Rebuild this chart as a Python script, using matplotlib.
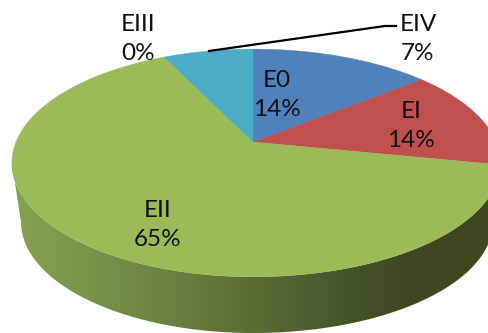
"""Perspective 3D pie of stage shares, drawn in pixel coordinates."""
import numpy as np
import matplotlib
matplotlib.use('Agg')
import matplotlib.pyplot as plt
from matplotlib.colors import LinearSegmentedColormap
from matplotlib.patches import Polygon

labels = ['E0', 'EI', 'EII', 'EIII', 'EIV']
values = [14.1, 14.1, 64.6, 0, 7.2]
colors = ['#4f81bd', '#c0504d', '#9bbb59', '#4bacc6', '#4bacc6']
label_xy = [(277, 95), (411, 126), (158, 225), (138, 39), (418, 39)]

W, H = 489, 333
CX, CY = 253, 142      # pie apex on screen
A_LEFT, A_RIGHT, B, K = 237, 243, 110, 0.184  # projection of the unit circle


def project(theta):
    # theta in degrees, clockwise from 12 o'clock
    t = np.radians(theta)
    den = 1 + K * np.cos(t)
    a = np.where(np.sin(t) > 0, A_RIGHT, A_LEFT)
    return np.column_stack((CX + a * np.sin(t) / den, CY - B * np.cos(t) / den))


fig = plt.figure(figsize=(W / 100, H / 100), dpi=100)
ax = fig.add_axes([0, 0, 1, 1])
ax.set_xlim(0, W)
ax.set_ylim(H, 0)
ax.axis('off')

# side wall, horizontal gradient clipped to the lower rim
tangent = np.degrees(np.arccos(-K))
top_rim = project(np.linspace(tangent, 360 - tangent, 200))
s = np.radians(np.linspace(-90, 90, 200))
rx = np.where(s < 0, 232, 240)
bottom_rim = np.column_stack((253 + rx * np.sin(s), 222 + 111 * np.cos(s)))
wall_path = Polygon(np.vstack((top_rim, bottom_rim)), closed=True,
                    transform=ax.transData, fc='none', ec='none')
ax.add_patch(wall_path)
wall_cmap = LinearSegmentedColormap.from_list('wall', [
    (0.0, '#86a34f'), (0.25, '#728a44'), (0.45, '#5f7238'),
    (0.7, '#46542a'), (0.82, '#3d4820'), (1.0, '#3d4820')])
grad = ax.imshow(np.linspace(0, 1, 256)[None, :], cmap=wall_cmap, aspect='auto',
                 extent=(12, 494, 340, 150), zorder=1)
grad.set_clip_path(wall_path)
ax.set_xlim(0, W)
ax.set_ylim(H, 0)

# top face
edges = np.cumsum([0] + values) / sum(values) * 360
for start, end, color in zip(edges[:-1], edges[1:], colors):
    if end <= start:
        continue
    arc = project(np.linspace(start, end, 150))
    ax.add_patch(Polygon(np.vstack(([CX, CY], arc)), closed=True, fc=color,
                         ec=color, lw=0.3, zorder=2))

# leader line for EIV
ax.plot([209, 385, 396], [51, 26, 26], color='black', lw=1.6, zorder=3)

for name, value, (x, y) in zip(labels, values, label_xy):
    ax.text(x, y, f'{name}\n{value:.0f}%', ha='center', va='center', fontsize=17.5,
            family='Lato', color='#111111', linespacing=1.48, zorder=4)

fig.savefig('out.png', dpi=100)
